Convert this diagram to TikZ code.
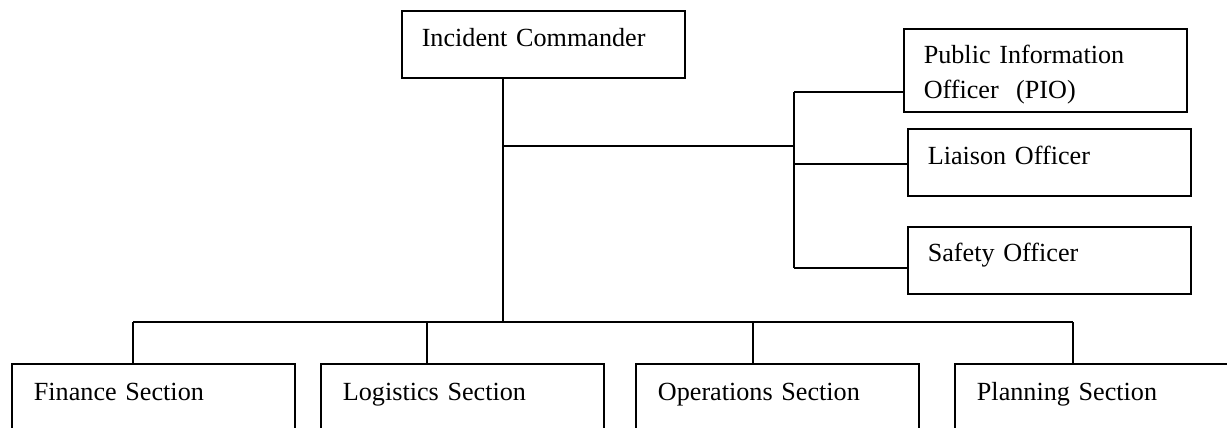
\documentclass[tikz,border=0pt]{standalone}
\usepackage{fontspec}
\setmainfont{Liberation Serif}
\tikzset{
  unitbox/.style={draw, line width=0.7pt, anchor=north west, align=left,
    inner xsep=8.3pt, inner ysep=0pt, text width=101.3pt,
    text height=15pt, text depth=12.9pt,
    font=\fontsize{10.9}{14.6}\selectfont},
  sectbox/.style={unitbox, inner xsep=9.2pt, text width=99.5pt,
    text height=15.4pt, text depth=40pt},
  link/.style={line width=0.7pt}
}
\begin{document}
\begin{tikzpicture}[x=0.4167pt, y=-0.4167pt]
  \useasboundingbox (0,0) rectangle (1227,427);
  \clip (0,0) rectangle (1227,427);
  % Commander
  \node[unitbox] (ic) at (401,10) {Incident Commander};
  % Staff officers
  \node[unitbox, text height=14.6pt, text depth=20pt] (pio) at (903,28) {Public Information\\Officer\ \ (PIO)};
  \node[unitbox] (lo) at (907,128) {Liaison Officer};
  \node[unitbox, text height=14.6pt, text depth=13.3pt] (so) at (907,226) {Safety Officer};
  % Sections
  \node[sectbox] (fin) at (11,363) {Finance Section};
  \node[sectbox] (log) at (320,363) {Logistics Section};
  \node[sectbox] (ops) at (635,363) {Operations Section};
  \node[sectbox] (pln) at (954,363) {Planning Section};
  % Junctions
  \coordinate (hub) at (503,146);
  \coordinate (bar) at (503,322);
  \coordinate (s1) at (794,92);
  \coordinate (s2) at (794,164);
  \coordinate (s3) at (794,268);
  \coordinate (d1) at (133,322);
  \coordinate (d2) at (427,322);
  \coordinate (d3) at (753,322);
  \coordinate (d4) at (1073,322);
  % Commander down to the sections
  \draw[link] (ic.south -| hub) -- (bar);
  \draw[link] (d1) -- (d4);
  \foreach \d/\b in {d1/fin, d2/log, d3/ops, d4/pln}
    \draw[link] (\d) -- (\d |- \b.north);
  % Staff branch
  \draw[link] (hub) -- (hub -| s1);
  \draw[link] (s1) -- (s3);
  \draw[link] (s1) -- (s1 -| pio.west);
  \draw[link] (s2) -- (s2 -| lo.west);
  \draw[link] (s3) -- (s3 -| so.west);
\end{tikzpicture}
\end{document}
